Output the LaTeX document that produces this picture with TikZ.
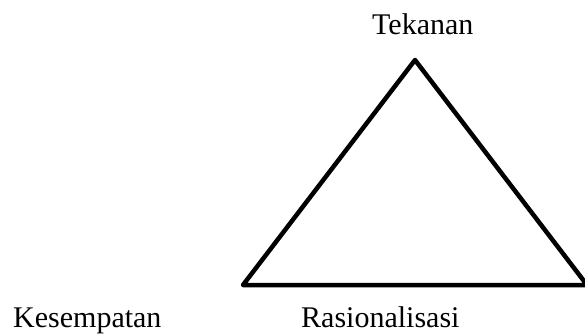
\documentclass[tikz,border=0pt]{standalone}
\usepackage{fontspec}
\setmainfont{Liberation Serif}
\begin{document}
\begin{tikzpicture}[x=1pt,y=-1pt,
  lbl/.style={inner sep=0pt,anchor=base west,font=\fontsize{30}{34}\selectfont},
  edge/.style={line width=4.5pt,line join=round,line cap=round}]
\useasboundingbox (0,0) rectangle (585,335);
\coordinate (top) at (415,60);
\coordinate (bl) at (243,285);
\coordinate (br) at (587,285);
\draw[edge] (top) -- (bl) -- (br) -- cycle;
\node[lbl] (tek) at (372,34) {Tekanan};
\node[lbl] (kes) at (13,327) {Kesempatan};
\node[lbl] (ras) at (301,327) {Rasionalisasi};
\end{tikzpicture}
\end{document}
